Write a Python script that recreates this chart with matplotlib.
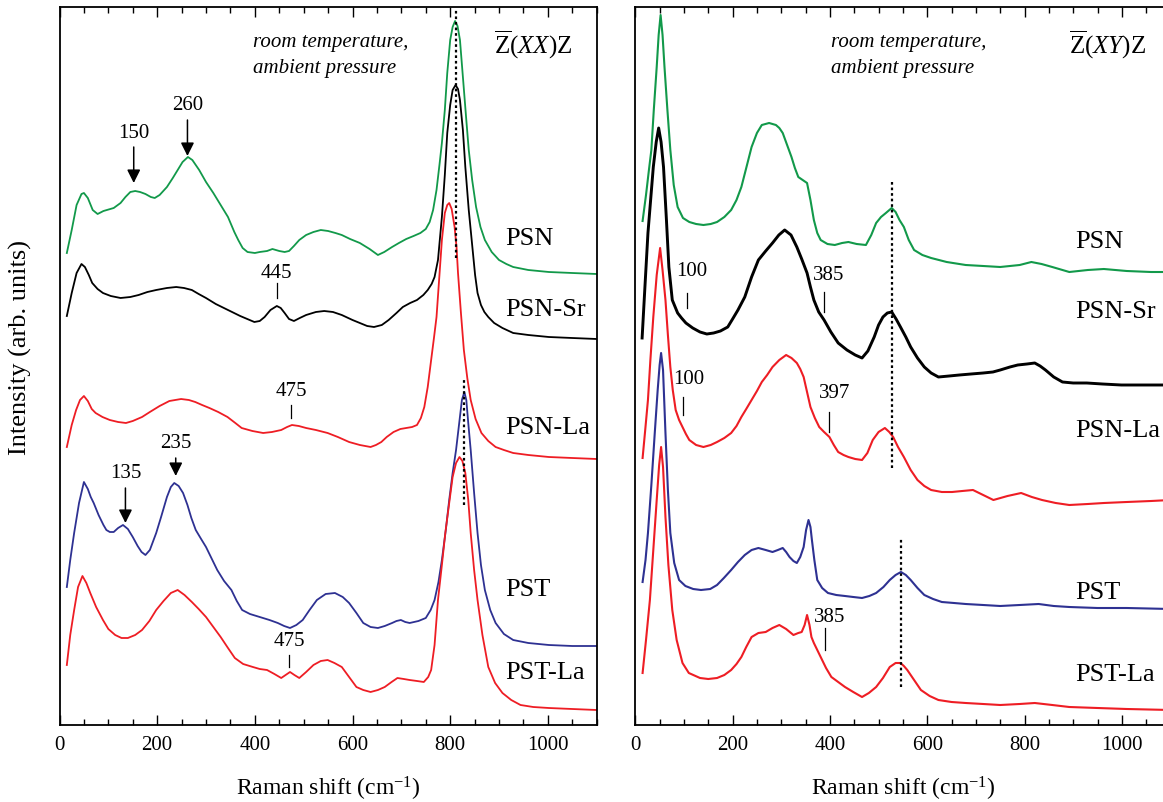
import matplotlib
matplotlib.use("Agg")
import matplotlib.pyplot as plt
from matplotlib.ticker import MultipleLocator

plt.rcParams['font.family'] = ['Liberation Serif', 'DejaVu Serif']
plt.rcParams['mathtext.fontset'] = 'custom'
plt.rcParams['mathtext.rm'] = 'Liberation Serif'
plt.rcParams['mathtext.it'] = 'Liberation Serif:italic'

GREEN = '#12994a'
RED = '#ee1d24'
BLUE = '#2e3192'
BLACK = '#000000'

# ---- Z(XX)Z spectra (stacked, arbitrary units) ----
xx_psn_x = [15, 25, 35, 45, 50, 58, 68, 78, 90, 111, 125, 135, 145, 155, 165, 176, 187, 195, 205, 220, 232, 242,
            252, 263, 272, 286, 300, 315, 330, 345, 358, 366, 375, 385, 400, 410, 425, 436, 450, 461, 470, 480,
            491, 505, 520, 535, 550, 565, 578, 595, 615, 635, 652, 665, 681, 695, 710, 725, 739, 750, 758, 765,
            772, 778, 783, 789, 794, 800, 805, 810, 815, 820, 827, 833, 838, 845, 853, 862, 871, 885, 900, 915,
            929, 960, 1002, 1050, 1100]
xx_psn_y = [472, 495, 520, 531, 532, 527, 515, 511, 514, 517, 522, 528, 533, 534, 533, 531, 528, 527, 530, 538,
            547, 555, 563, 568, 565, 555, 543, 532, 520, 508, 493, 485, 477, 473, 472, 473, 474, 476, 474, 473,
            474, 479, 485, 490, 493, 495, 494, 492, 490, 486, 482, 476, 470, 473, 478, 482, 486, 489, 492, 496,
            503, 515, 535, 560, 582, 615, 652, 685, 698, 704, 699, 685, 642, 605, 575, 545, 518, 498, 485, 473,
            465, 461, 458, 455, 453, 452, 451]

xx_psnsr_x = [15, 25, 35, 45, 52, 60, 67, 78, 89, 105, 125, 145, 162, 180, 198, 220, 239, 255, 271, 285, 300,
              320, 345, 370, 399, 410, 420, 432, 445, 453, 461, 470, 480, 492, 505, 525, 542, 560, 578, 600, 615,
              630, 644, 660, 674, 690, 703, 718, 732, 745, 754, 762, 768, 775, 783, 789, 794, 800, 805, 811, 816,
              820, 826, 831, 838, 846, 851, 856, 863, 870, 878, 890, 907, 929, 960, 1002, 1050, 1100]
xx_psnsr_y = [409, 432, 452, 461, 458, 450, 442, 436, 432, 429, 427, 428, 430, 433, 435, 437, 438, 437, 435, 431,
              427, 421, 415, 409, 403, 404, 408, 415, 419, 417, 412, 406, 404, 407, 410, 413, 414, 413, 410, 405,
              402, 399, 398, 400, 405, 412, 418, 422, 425, 430, 435, 441, 448, 465, 508, 550, 592, 620, 635, 640,
              636, 625, 595, 558, 515, 475, 450, 432, 420, 413, 408, 402, 397, 392, 390, 388, 387, 386]

xx_psnla_x = [15, 25, 34, 42, 50, 58, 66, 74, 88, 103, 120, 136, 150, 169, 185, 205, 225, 249, 265, 278, 292,
              307, 325, 344, 360, 373, 395, 417, 435, 454, 466, 476, 490, 505, 525, 549, 570, 593, 615, 637, 648,
              659, 670, 684, 698, 710, 722, 732, 740, 747, 754, 761, 767, 772, 778, 783, 789, 794, 798, 803, 809,
              813, 816, 822, 828, 835, 842, 852, 864, 878, 893, 910, 929, 960, 1002, 1050, 1100]
xx_psnla_y = [278, 300, 315, 325, 329, 324, 316, 312, 308, 305, 303, 302, 304, 308, 313, 319, 324, 326, 325, 323,
              320, 317, 313, 308, 302, 297, 294, 292, 293, 295, 298, 300, 299, 297, 295, 292, 288, 283, 280, 278,
              280, 283, 288, 293, 296, 297, 298, 300, 307, 318, 338, 365, 388, 408, 450, 485, 512, 520, 522, 516,
              498, 478, 452, 412, 375, 347, 325, 306, 292, 284, 278, 275, 272, 270, 268, 267, 266]

xx_pst_x = [15, 22, 30, 40, 50, 58, 64, 70, 80, 90, 96, 103, 111, 120, 130, 140, 150, 160, 168, 176, 185, 198,
            208, 220, 228, 235, 244, 253, 262, 270, 279, 290, 300, 310, 323, 337, 352, 363, 374, 390, 410, 430,
            447, 460, 472, 485, 498, 512, 527, 545, 564, 580, 593, 608, 622, 637, 652, 666, 681, 690, 699, 708,
            717, 735, 750, 760, 768, 776, 783, 791, 798, 805, 812, 818, 824, 829, 833, 837, 842, 849, 856, 863,
            871, 882, 893, 910, 929, 960, 1002, 1050, 1100]
xx_pst_y = [138, 165, 192, 222, 243, 236, 228, 222, 210, 200, 195, 193, 193, 197, 200, 196, 188, 179, 173, 170,
            175, 192, 208, 228, 238, 242, 239, 232, 220, 207, 195, 186, 178, 168, 155, 144, 135, 124, 115, 111,
            108, 105, 102, 99, 97, 100, 105, 115, 125, 131, 132, 128, 122, 112, 102, 98, 97, 99, 102, 104,
            105, 103, 102, 104, 107, 115, 125, 143, 165, 195, 225, 252, 275, 300, 325, 333, 325, 302, 275, 232,
            192, 160, 135, 115, 102, 91, 85, 82, 80, 79, 79]

xx_pstla_x = [15, 22, 30, 38, 47, 55, 63, 75, 89, 100, 114, 127, 140, 155, 169, 184, 198, 213, 228, 242, 256,
              271, 285, 300, 315, 330, 345, 359, 376, 396, 410, 425, 440, 454, 463, 472, 481, 491, 505, 520, 535,
              549, 563, 578, 593, 608, 622, 637, 652, 666, 680, 692, 705, 717, 732, 746, 755, 761, 768, 775, 783,
              790, 798, 805, 812, 819, 825, 831, 837, 842, 849, 856, 866, 878, 892, 907, 925, 944, 970, 1002,
              1050, 1100]
xx_pstla_y = [60, 90, 115, 138, 149, 142, 132, 118, 105, 96, 90, 87, 87, 90, 95, 104, 115, 124, 132, 135, 130,
              123, 116, 108, 98, 88, 77, 67, 61, 58, 56, 55, 51, 47, 50, 53, 50, 47, 53, 60, 64,
              65, 62, 58, 48, 38, 35, 33, 35, 38, 43, 47, 46, 45, 44, 43, 48, 55, 80, 125, 160,
              192, 222, 248, 262, 268, 264, 252, 225, 192, 155, 125, 90, 58, 42, 32, 25, 20, 18, 17,
              16, 15]

# ---- Z(XY)Z spectra ----
xy_psn_x = [15, 22, 28, 33, 38, 44, 48, 52, 56, 60, 66, 72, 79, 87, 98, 111, 125, 140, 155, 168, 183, 197, 208,
            218, 228, 239, 250, 260, 275, 289, 296, 303, 312, 321, 328, 335, 344, 353, 360, 367, 374, 381, 395,
            410, 425, 438, 455, 474, 485, 495, 505, 515, 527, 535, 543, 552, 562, 573, 590, 608, 640, 679, 715,
            750, 790, 814, 835, 857, 892, 930, 963, 1010, 1060, 1100]
xy_psn_y = [504, 530, 555, 575, 615, 658, 690, 710, 690, 658, 615, 575, 540, 518, 507, 503, 501, 500, 501, 503,
            508, 515, 525, 538, 557, 578, 592, 600, 602, 600, 597, 592, 580, 568, 557, 548, 545, 542, 525, 505,
            492, 485, 481, 480, 482, 483, 481, 480, 490, 502, 508, 512, 517, 513, 505, 498, 485, 475, 470, 467,
            463, 460, 459, 458, 460, 463, 461, 458, 453, 455, 456, 454, 453, 453]

xy_psnsr_x = [14, 20, 26, 32, 37, 43, 48, 53, 58, 64, 69, 76, 87, 95, 104, 118, 133, 147, 161, 175, 190, 200,
              211, 225, 239, 253, 268, 282, 295, 307, 320, 332, 342, 353, 360, 367, 377, 388, 402, 417, 435, 452,
              466, 478, 491, 500, 509, 518, 527, 536, 545, 556, 566, 580, 594, 608, 623, 645, 666, 690, 715, 735,
              750, 770, 786, 805, 821, 832, 843, 860, 878, 900, 928, 960, 999, 1050, 1100]
xy_psnsr_y = [387, 440, 492, 528, 558, 583, 597, 583, 558, 505, 458, 425, 412, 407, 402, 397, 393, 391, 392, 394,
              398, 406, 415, 428, 448, 465, 474, 482, 490, 495, 490, 478, 466, 452, 438, 425, 413, 405, 393, 382,
              375, 370, 367, 374, 388, 400, 408, 412, 413, 406, 398, 388, 378, 367, 358, 352, 348, 349, 350, 351,
              352, 353, 355, 358, 360, 361, 362, 359, 355, 348, 343, 342, 342, 341, 340, 340, 340]

xy_psnla_x = [15, 20, 26, 31, 37, 44, 51, 56, 62, 67, 72, 77, 83, 90, 97, 104, 111, 125, 140, 155, 168, 183,
              197, 208, 218, 228, 239, 250, 260, 271, 282, 296, 310, 321, 332, 339, 346, 353, 360, 369, 378, 388,
              399, 408, 417, 428, 438, 452, 466, 477, 488, 500, 513, 522, 530, 540, 552, 566, 580, 594, 608, 630,
              651, 672, 694, 715, 736, 765, 793, 815, 836, 864, 892, 930, 963, 1010, 1060, 1100]
xy_psnla_y = [267, 293, 325, 365, 408, 450, 477, 455, 425, 390, 358, 335, 315, 305, 298, 291, 285, 280, 278, 280,
              283, 287, 292, 299, 308, 316, 325, 334, 343, 350, 358, 365, 370, 367, 362, 356, 348, 333, 318, 307,
              298, 293, 288, 280, 273, 270, 268, 266, 265, 272, 285, 293, 297, 293, 288, 278, 268, 255, 245, 239,
              235, 233, 233, 234, 235, 230, 225, 229, 232, 228, 225, 222, 220, 221, 222, 223, 224, 225]

xy_pst_x = [15, 21, 26, 33, 40, 46, 50, 53, 57, 62, 67, 72, 80, 90, 103, 119, 135, 154, 168, 182, 197, 211, 225,
            239, 253, 268, 282, 293, 303, 310, 317, 325, 332, 339, 346, 351, 356, 360, 363, 368, 374, 384, 396,
            413, 431, 448, 466, 481, 495, 510, 523, 535, 546, 556, 566, 580, 594, 612, 630, 655, 679, 715, 750,
            790, 829, 860, 892, 950, 1010, 1100]
xy_pst_y = [143, 165, 192, 240, 292, 335, 360, 372, 355, 292, 235, 192, 162, 145, 139, 136, 135, 136, 140, 147,
            155, 163, 170, 175, 177, 175, 173, 175, 177, 173, 168, 164, 162, 168, 178, 195, 205, 198, 185, 165,
            145, 137, 132, 130, 129, 128, 127, 129, 132, 138, 145, 150, 153, 150, 145, 137, 130, 126, 123, 122,
            121, 120, 119, 120, 121, 119, 118, 117, 117, 116]

xy_pstla_x = [15, 22, 30, 37, 44, 49, 53, 57, 62, 68, 76, 85, 97, 110, 133, 150, 168, 183, 197, 208, 218, 228,
              239, 253, 268, 282, 296, 310, 325, 335, 342, 348, 353, 358, 362, 367, 374, 381, 392, 403, 417, 431,
              448, 466, 480, 495, 509, 523, 535, 545, 552, 559, 573, 587, 605, 623, 650, 679, 715, 750, 790, 821,
              857, 892, 950, 1010, 1100]
xy_pstla_y = [52, 85, 125, 175, 225, 260, 278, 258, 208, 160, 115, 85, 62, 52, 47, 46, 47, 50, 55, 61, 68, 78,
              88, 92, 93, 97, 100, 96, 90, 92, 93, 100, 110, 100, 88, 82, 75, 68, 57, 48, 43, 38,
              33, 28, 32, 38, 47, 58, 62, 62, 59, 55, 45, 35, 29, 25, 23, 22, 21, 20, 21, 22,
              20, 18, 17, 16, 15]

samples = ['PSN', 'PSN-Sr', 'PSN-La', 'PST', 'PST-La']
colors = [GREEN, BLACK, RED, BLUE, RED]

xx_spectra = [(xx_psn_x, xx_psn_y), (xx_psnsr_x, xx_psnsr_y), (xx_psnla_x, xx_psnla_y),
              (xx_pst_x, xx_pst_y), (xx_pstla_x, xx_pstla_y)]
xy_spectra = [(xy_psn_x, xy_psn_y), (xy_psnsr_x, xy_psnsr_y), (xy_psnla_x, xy_psnla_y),
              (xy_pst_x, xy_pst_y), (xy_pstla_x, xy_pstla_y)]

# label heights for the sample names
xx_label_y = [486, 415, 297, 135, 52]
xy_label_y = [483, 413, 294, 132, 50]

# (shift, label, text y, line top, line bottom, with arrow head)
xx_marks = [(152, '150', 592, 578, 542, True), (262, '260', 619, 605, 569, True),
            (445, '445', 452, 442, 427, False), (474, '475', 333, 320, 307, False),
            (238, '235', 281, 267, 249, True), (135, '135', 252, 237, 202, True),
            (470, '475', 83, 70, 58, False)]
xy_marks = [(106, '100', 453, 432, 417, False), (387, '385', 450, 433, 413, False),
            (99, '100', 345, 328, 310, False), (399, '397', 332, 313, 293, False),
            (390, '385', 108, 97, 75, False)]
# dotted guide lines: (shift, bottom, top)
xx_guides = [(812, 467, 717), (829, 220, 345)]
xy_guides = [(527, 257, 543), (547, 38, 188)]

W, H = 1163, 802
fig = plt.figure(figsize=(W / 100, H / 100), dpi=100)
ax1 = fig.add_axes([59.5 / W, (H - 725) / H, 537.2 / W, 718 / H])
ax2 = fig.add_axes([635.3 / W, (H - 725) / H, 535.2 / W, 718 / H])


def draw_panel(ax, spectra, label_y, label_x, marks, guides, geometry, num_offset, lw):
    for (x, y), c in zip(spectra, colors):
        w = 2.1 if (c == BLACK and ax is ax2) else lw
        ax.plot(x, y, color=c, lw=w, solid_joinstyle='round')
    for name, ly in zip(samples, label_y):
        ax.text(label_x, ly, name, fontsize=19, ha='left', va='center')
    for sx, lab, ty, top, bot, arrow in marks:
        ax.text(sx + num_offset, ty, lab, fontsize=15, ha='center', va='center')
        if arrow:
            ax.annotate('', xy=(sx, bot), xytext=(sx, top),
                        arrowprops=dict(arrowstyle='-|>', color='k', lw=1.1,
                                        mutation_scale=20, shrinkA=0, shrinkB=0))
        else:
            ax.plot([sx, sx], [bot, top], color='k', lw=0.9)
    for gx, g0, g1 in guides:
        ax.plot([gx, gx], [g0, g1], color='k', lw=1.6, linestyle=(0, (1.2, 1.3)))
    ax.text(geometry[0], 683, 'room temperature,', fontsize=15, style='italic', ha='left', va='center')
    ax.text(geometry[0], 657, 'ambient pressure', fontsize=15, style='italic', ha='left', va='center')
    ax.text(geometry[1], 680, geometry[2], fontsize=18, ha='left', va='center')

    ax.set_xlim(0, 1100)
    ax.set_ylim(0, 718)
    ax.set_yticks([])
    ax.xaxis.set_major_locator(MultipleLocator(200))
    ax.xaxis.set_minor_locator(MultipleLocator(50))
    ax.tick_params(axis='x', which='both', direction='in', top=True, bottom=True,
                   labelsize=15, pad=8, width=1.0)
    ax.tick_params(axis='x', which='major', length=7)
    ax.tick_params(axis='x', which='minor', length=4)
    for s in ax.spines.values():
        s.set_linewidth(1.3)
    ax.set_xlabel('Raman shift (cm$^{-1}$)', fontsize=17, labelpad=14)


draw_panel(ax1, xx_spectra, xx_label_y, 913, xx_marks, xx_guides,
           (396, 889, r'$\overline{\mathrm{Z}}(\mathit{XX})\mathrm{Z}$'), 0, 1.3)
draw_panel(ax2, xy_spectra, xy_label_y, 905, xy_marks, xy_guides,
           (403, 892, r'$\overline{\mathrm{Z}}(\mathit{XY})\mathrm{Z}$'), 10, 1.5)

fig.text(20 / W, (H - 348) / H, 'Intensity (arb. units)', rotation=90, fontsize=19,
         ha='center', va='center')

fig.savefig('out.png', dpi=100)
